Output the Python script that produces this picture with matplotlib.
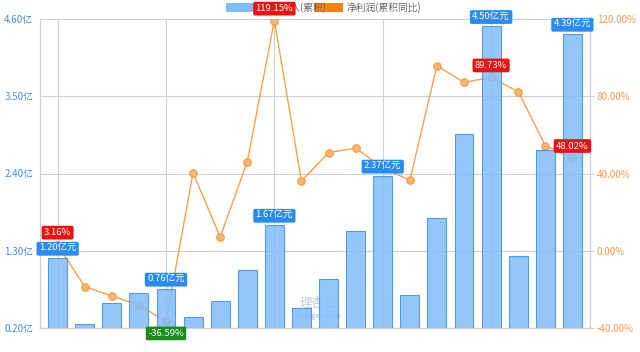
import matplotlib
matplotlib.use("Agg")
import matplotlib.pyplot as plt
from matplotlib.patches import Rectangle

plt.rcParams['font.family'] = ['Noto Sans CJK SC', 'DejaVu Sans']

quarters = ["16-Q4", "17-Q1", "17-Q2", "17-Q3", "17-Q4", "18-Q1", "18-Q2", "18-Q3",
            "18-Q4", "19-Q1", "19-Q2", "19-Q3", "19-Q4", "20-Q1", "20-Q2", "20-Q3",
            "20-Q4", "21-Q1", "21-Q2", "21-Q3"]
revenue = [1.20, 0.25, 0.55, 0.70, 0.76, 0.35, 0.59, 1.03, 1.67, 0.49,
           0.90, 1.58, 2.37, 0.67, 1.77, 2.96, 4.50, 1.23, 2.74, 4.39]
profit_yoy = [3.16, -18.6, -23.4, -28.1, -36.59, 40.4, 7.1, 46.1, 119.15, 36.1,
              50.8, 53.1, 43.0, 36.5, 95.8, 87.2, 89.73, 82.4, 54.4, 48.02]
shown_ticks = [0, 2, 4, 6, 8, 10, 12, 14, 16, 19]
grid_x = [0, 4, 8, 12, 16]
left_ticks = [0.20, 1.30, 2.40, 3.50, 4.60]
right_ticks = [-40, 0, 40, 80, 120]
bar_labels_idx = [0, 4, 8, 12, 16, 19]
line_red_idx = [0, 8, 16, 19]
line_green_idx = [4]
legend_names = ["营业收入(累积)", "净利润(累积同比)"]

W, H = 640, 352
fig = plt.figure(figsize=(W / 100, H / 100), dpi=100)
L, R, B, T = 40, 590, 328, 19
ax = fig.add_axes([L / W, 1 - B / H, (R - L) / W, (B - T) / H])
ax2 = ax.twinx()
ax.set_zorder(2)
ax.patch.set_visible(False)
ax2.set_zorder(1)

xs = list(range(len(quarters)))
ax.bar(xs, [v - 0.20 for v in revenue], bottom=0.20, width=0.7,
       color=(0.50, 0.74, 0.99), edgecolor=(0.25, 0.55, 0.92), linewidth=0.8,
       alpha=0.85)
ax.set_xlim(-0.65, 19.65)
ax.set_ylim(0.20, 4.60)
ax2.set_ylim(-40, 120)

line_col = (0.96, 0.63, 0.29)
ax2.plot(xs, profit_yoy, color=line_col, linewidth=1.0, zorder=2)
ax2.scatter(xs, profit_yoy, s=28, facecolor=(0.97, 0.72, 0.45), edgecolor=line_col,
            linewidth=1.0, zorder=3)

# grid
for v in right_ticks:
    ax2.axhline(v, color='#d0d0d0', linewidth=0.8, zorder=0)
for gx in grid_x:
    ax2.axvline(gx, color='#d0d0d0', linewidth=0.8, zorder=0)

for a in (ax, ax2):
    for s in ('top',):
        a.spines[s].set_visible(False)
    for s in ('left', 'right', 'bottom'):
        a.spines[s].set_color('#d0d0d0')
        a.spines[s].set_linewidth(0.8)

ax.set_xticks(shown_ticks)
ax.set_xticklabels([quarters[i] for i in shown_ticks], fontsize=7, color='#777777')
ax.tick_params(axis='x', length=0, pad=5)
ax.set_yticks(left_ticks)
ax.set_yticklabels([f"{v:.2f}亿" for v in left_ticks], fontsize=7, color=(0.27, 0.55, 0.9))
ax.tick_params(axis='y', length=0, pad=5)
ax2.set_yticks(right_ticks)
ax2.set_yticklabels([f"{v:.2f}%" for v in right_ticks], fontsize=7, color=(0.96, 0.6, 0.3))
ax2.tick_params(axis='y', length=3, color='#d0d0d0', pad=2)
ax2.set_xticks([])

# bar labels
blue_box = (0.16, 0.55, 0.94)
for i in bar_labels_idx:
    ax.annotate(f"{revenue[i]:.2f}亿元", (i, revenue[i]), xytext=(0, 9),
                textcoords='offset pixels', ha='center', va='center', fontsize=6.8,
                color='white', zorder=10,
                bbox=dict(boxstyle='round,pad=0.25,rounding_size=0.2', fc=blue_box, ec='none'))

# line labels (drawn on top axes)
for i in line_red_idx:
    ax.annotate(f"{profit_yoy[i]:.2f}%", (i, profit_yoy[i]), xycoords=ax2.transData,
                xytext=(0, 12), textcoords='offset pixels', ha='center', va='center',
                fontsize=6.8, color='white', zorder=11, annotation_clip=False,
                bbox=dict(boxstyle='round,pad=0.25,rounding_size=0.2', fc=(0.93, 0.07, 0.07), ec='none'))
for i in line_green_idx:
    ax.annotate(f"{profit_yoy[i]:.2f}%", (i, profit_yoy[i]), xycoords=ax2.transData,
                xytext=(0, -12), textcoords='offset pixels', ha='center', va='center',
                fontsize=6.8, color='white', zorder=11, annotation_clip=False,
                bbox=dict(boxstyle='round,pad=0.25,rounding_size=0.2', fc=(0.1, 0.55, 0.1), ec='none'))

# legend
fig.patches.append(Rectangle((226 / W, 1 - 12 / H), 31 / W, 9 / H, transform=fig.transFigure,
                             fc=(0.50, 0.74, 0.99), ec='none', zorder=1.5))
fig.text(261 / W, 1 - 8 / H, legend_names[0], fontsize=7, color='#666666', va='center', zorder=1.5)
fig.patches.append(Rectangle((314 / W, 1 - 12 / H), 29 / W, 9 / H, transform=fig.transFigure,
                             fc=(1.0, 0.5, 0.07), ec='none', zorder=1.5))
fig.text(347 / W, 1 - 8 / H, legend_names[1], fontsize=7, color='#666666', va='center', zorder=1.5)

# watermark
fig.text(318 / W, 1 - 304 / H, "理杏仁", fontsize=9, color=(0.6, 0.65, 0.75), alpha=0.6,
         ha='center', va='center', zorder=1.5)
fig.text(318 / W, 1 - 316 / H, "lixinger.com", fontsize=5.5, color=(0.4, 0.55, 0.8), alpha=0.6,
         ha='center', va='center', zorder=1.5)

fig.savefig("out.png", dpi=100)
